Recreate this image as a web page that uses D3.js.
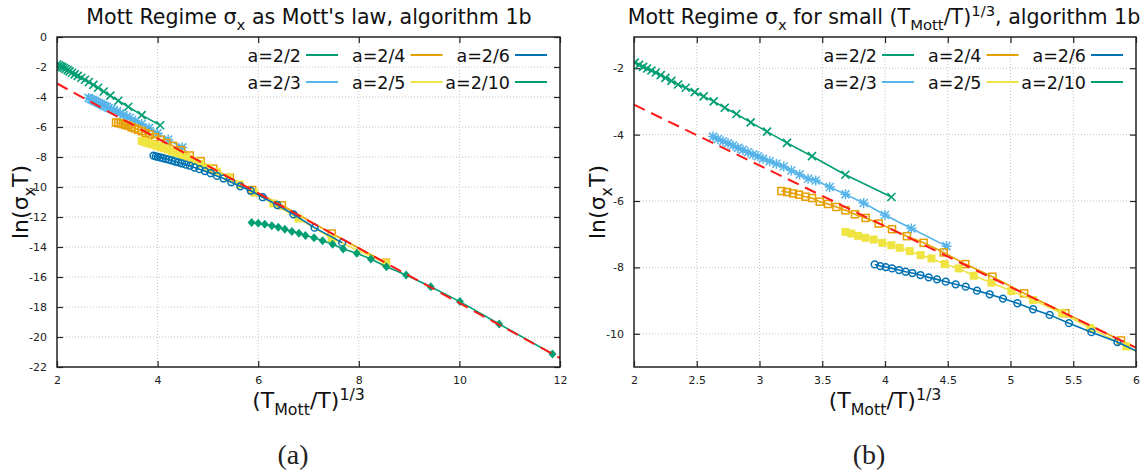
<!DOCTYPE html>
<html>
<head>
<meta charset="utf-8">
<script src="https://cdn.jsdelivr.net/npm/d3@7"></script>
<style>
  body { margin: 0; background: #fff; }
  svg text { font-family: "DejaVu Sans", sans-serif; fill: #111; }
  svg text.caption { font-family: "Liberation Serif", "DejaVu Serif", serif; fill: #222; }
</style>
</head>
<body>
<div id="chart"></div>
<script>
// series: x = (T_Mott/T)^(1/3), y = ln(sigma_x T)
const names = ["a=2/2", "a=2/3", "a=2/4", "a=2/5", "a=2/6", "a=2/10"]
const colors = ["#009e73", "#56b4e9", "#e69f00", "#f0e442", "#0072b2", "#009e73"]

const x22 = [2.006, 2.04, 2.072, 2.104, 2.139, 2.173, 2.213, 2.25, 2.298, 2.351, 2.412, 2.484, 2.555, 2.635, 2.723, 2.816, 2.93, 3.06, 3.219, 3.418, 3.684, 4.051]
const y22 = [-1.83, -1.90, -1.96, -2.01, -2.07, -2.13, -2.21, -2.29, -2.38, -2.49, -2.59, -2.72, -2.85, -3.0, -3.19, -3.38, -3.63, -3.91, -4.25, -4.65, -5.21, -5.88]

const x23 = [2.63, 2.669, 2.709, 2.749, 2.789, 2.829, 2.868, 2.908, 2.948, 2.988, 3.028, 3.081, 3.135, 3.193, 3.254, 3.32, 3.387, 3.448, 3.56, 3.685, 3.83, 4.0, 4.21, 4.49]
const y23 = [-4.06, -4.13, -4.20, -4.26, -4.33, -4.40, -4.46, -4.53, -4.60, -4.65, -4.73, -4.80, -4.88, -4.96, -5.08, -5.20, -5.33, -5.38, -5.58, -5.80, -6.06, -6.42, -6.83, -7.36]

const x24 = [3.174, 3.219, 3.267, 3.315, 3.366, 3.418, 3.48, 3.546, 3.613, 3.685, 3.761, 3.846, 3.95, 4.056, 4.175, 4.308, 4.468, 4.64, 4.856, 5.108, 5.437, 5.88, 6.47, 7.46, 8.54]
const y24 = [-5.70, -5.73, -5.77, -5.81, -5.87, -5.91, -6.02, -6.09, -6.18, -6.28, -6.40, -6.51, -6.68, -6.85, -7.06, -7.26, -7.55, -7.90, -8.28, -8.78, -9.38, -10.2, -11.22, -13.1, -15.05]

const x25 = [3.685, 3.732, 3.785, 3.844, 3.91, 3.979, 4.05, 4.117, 4.197, 4.284, 4.37, 4.476, 4.587, 4.707, 4.848, 5.007, 5.18, 5.41, 5.636, 5.923, 6.3, 6.8, 7.46, 8.54]
const y25 = [-6.93, -6.98, -7.05, -7.11, -7.16, -7.26, -7.33, -7.41, -7.51, -7.63, -7.73, -7.90, -8.03, -8.25, -8.46, -8.71, -8.98, -9.38, -9.83, -10.38, -11.1, -12.1, -13.42, -15.09]

const x26 = [3.918, 3.963, 4.006, 4.056, 4.112, 4.165, 4.218, 4.282, 4.348, 4.414, 4.484, 4.563, 4.643, 4.733, 4.834, 4.94, 5.055, 5.18, 5.312, 5.466, 5.645, 5.852, 6.09, 6.38, 6.70, 7.12, 7.67]
const y26 = [-7.91, -7.96, -7.99, -8.03, -8.08, -8.13, -8.17, -8.23, -8.30, -8.36, -8.43, -8.51, -8.58, -8.70, -8.81, -8.94, -9.08, -9.26, -9.43, -9.68, -9.95, -10.25, -10.68, -11.2, -11.82, -12.71, -13.71]

const x210 = [5.87, 6.0, 6.13, 6.27, 6.40, 6.53, 6.67, 6.81, 6.94, 7.11, 7.28, 7.48, 7.69, 7.96, 8.24, 8.55, 8.94, 9.43, 10.01, 10.79, 11.85]
const y210 = [-12.36, -12.42, -12.49, -12.58, -12.69, -12.81, -12.97, -13.09, -13.24, -13.38, -13.58, -13.82, -14.13, -14.42, -14.8, -15.31, -15.87, -16.65, -17.64, -19.13, -21.13]

// Mott's law fit (red dashed)
const fitX = [2, 12]
const fitY = [-3.1, -21.4]

const xTicksA = [2, 4, 6, 8, 10, 12]
const yTicksA = [0, -2, -4, -6, -8, -10, -12, -14, -16, -18, -20, -22]
const xTicksB = [2, 2.5, 3, 3.5, 4, 4.5, 5, 5.5, 6]
const yTicksB = [-2, -4, -6, -8, -10]

const markers = ["x", "star", "square", "fsquare", "circle", "diamond"]
const xsAll = [x22, x23, x24, x25, x26, x210]
const ysAll = [y22, y23, y24, y25, y26, y210]

let series = names.map((n, i) => ({
  name: n, color: colors[i], marker: markers[i],
  pts: xsAll[i].map((x, j) => [x, ysAll[i][j]])
}))

let svg = d3.select("#chart").append("svg")
  .attr("width", 1144).attr("height", 472)

// text with sub/superscripts: parts = [[text, "sub"|"sup"|null], ...]
let rich = (sel, parts, size) => {
  let shift = 0
  parts.forEach(p => {
    let target = p[1] === "sub" ? size * 0.3 : p[1] === "sup" ? -size * 0.38 : 0
    sel.append("tspan")
      .attr("dy", target - shift)
      .attr("font-size", p[1] ? size * 0.72 : size)
      .text(p[0])
    shift = target
  })
}

let drawMarker = (g, type, color, x, y) => {
  let s = 4
  if (type === "x") {
    g.append("path").attr("d", `M${x-s},${y-s}L${x+s},${y+s}M${x-s},${y+s}L${x+s},${y-s}`)
      .attr("stroke", color).attr("stroke-width", 1.6).attr("fill", "none")
  } else if (type === "star") {
    g.append("path").attr("d", `M${x-s},${y-s}L${x+s},${y+s}M${x-s},${y+s}L${x+s},${y-s}M${x-s-1},${y}L${x+s+1},${y}M${x},${y-s-1}L${x},${y+s+1}`)
      .attr("stroke", color).attr("stroke-width", 1.5).attr("fill", "none")
  } else if (type === "square") {
    g.append("rect").attr("x", x - 3.5).attr("y", y - 3.5).attr("width", 7).attr("height", 7)
      .attr("stroke", color).attr("stroke-width", 1.5).attr("fill", "none")
  } else if (type === "fsquare") {
    g.append("rect").attr("x", x - 4).attr("y", y - 4).attr("width", 8).attr("height", 8)
      .attr("fill", color)
  } else if (type === "circle") {
    g.append("circle").attr("cx", x).attr("cy", y).attr("r", 3.4)
      .attr("stroke", color).attr("stroke-width", 1.5).attr("fill", "none")
  } else {
    g.append("path").attr("d", `M${x},${y-4.5}L${x+4},${y}L${x},${y+4.5}L${x-4},${y}Z`)
      .attr("fill", color)
  }
}

let panel = (cfg) => {
  let x = d3.scaleLinear().domain(cfg.xDomain).range([cfg.left, cfg.right])
  let y = d3.scaleLinear().domain(cfg.yDomain).range([cfg.bottom, cfg.top])
  let g = svg.append("g")

  g.append("clipPath").attr("id", cfg.id)
    .append("rect").attr("x", cfg.left).attr("y", cfg.top)
    .attr("width", cfg.right - cfg.left).attr("height", cfg.bottom - cfg.top)

  // dotted grid
  let grid = g.append("g").attr("stroke", "#c4c4c4").attr("stroke-width", 1).attr("stroke-dasharray", "1,2")
  cfg.xTicks.slice(1, -1).forEach(t => {
    grid.append("line").attr("x1", x(t)).attr("x2", x(t)).attr("y1", cfg.top).attr("y2", cfg.bottom)
  })
  cfg.yTicks.forEach(t => {
    if (y(t) > cfg.top + 1 && y(t) < cfg.bottom - 1)
      grid.append("line").attr("y1", y(t)).attr("y2", y(t)).attr("x1", cfg.left).attr("x2", cfg.right)
  })

  // axes: ticks inside, mirrored on all four sides
  let axB = d3.axisBottom(x).tickValues(cfg.xTicks).tickSize(-6).tickPadding(9).tickFormat(d => String(d))
  let axT = d3.axisTop(x).tickValues(cfg.xTicks).tickSize(-6).tickFormat("")
  let axL = d3.axisLeft(y).tickValues(cfg.yTicks).tickSize(-6).tickPadding(10).tickFormat(d => String(d))
  let axR = d3.axisRight(y).tickValues(cfg.yTicks).tickSize(-6).tickFormat("")
  let style = a => {
    a.selectAll("path, line").attr("stroke", "#222").attr("stroke-width", 1.2)
    a.select(".domain").remove()
    a.selectAll("text").attr("font-size", 11).style("fill", "#222")
  }
  g.append("g").attr("transform", `translate(0,${cfg.bottom})`).call(axB).call(style)
  g.append("g").attr("transform", `translate(0,${cfg.top})`).call(axT).call(style)
  g.append("g").attr("transform", `translate(${cfg.left},0)`).call(axL).call(style)
  g.append("g").attr("transform", `translate(${cfg.right},0)`).call(axR).call(style)

  // data
  let plot = g.append("g").attr("clip-path", `url(#${cfg.id})`)
  let line = d3.line().x(d => x(d[0])).y(d => y(d[1]))
  series.forEach(s => {
    plot.append("path").datum(s.pts).attr("d", line)
      .attr("fill", "none").attr("stroke", s.color).attr("stroke-width", 1.6)
    let mg = plot.append("g")
    s.pts.forEach(p => drawMarker(mg, s.marker, s.color, x(p[0]), y(p[1])))
  })
  plot.append("path").datum(fitX.map((v, i) => [v, fitY[i]])).attr("d", line)
    .attr("fill", "none").attr("stroke", "#ff1a1a").attr("stroke-width", 2)
    .attr("stroke-dasharray", "12,7")

  // frame
  g.append("rect").attr("x", cfg.left).attr("y", cfg.top)
    .attr("width", cfg.right - cfg.left).attr("height", cfg.bottom - cfg.top)
    .attr("fill", "none").attr("stroke", "#222").attr("stroke-width", 1.5)

  // legend (two rows, three columns, column-major)
  names.forEach((n, i) => {
    let col = Math.floor(i / 2), row = i % 2
    let tx = cfg.right - 50 - (2 - col) * 104.5
    let ty = 55 + row * 27
    g.append("text").attr("x", tx).attr("y", ty + 6.5).attr("text-anchor", "end")
      .attr("font-size", 17.5).text(n)
    g.append("line").attr("x1", tx + 5).attr("x2", tx + 37).attr("y1", ty).attr("y2", ty)
      .attr("stroke", colors[i]).attr("stroke-width", 2)
  })

  // titles and labels
  let cx = (cfg.left + cfg.right) / 2
  let cy = (cfg.top + cfg.bottom) / 2
  rich(g.append("text").attr("x", cfg.titleX).attr("y", 24).attr("text-anchor", "middle"), cfg.title, 20.6)
  rich(g.append("text").attr("x", cx).attr("y", 408).attr("text-anchor", "middle"),
    [["(T", null], ["Mott", "sub"], ["/T)", null], ["1/3", "sup"]], 22)
  rich(g.append("text").attr("transform", `translate(${cfg.left - 29},${cy}) rotate(-90)`).attr("text-anchor", "middle"),
    [["ln(σ", null], ["x", "sub"], ["T)", null]], 22)
  g.append("text").attr("class", "caption").attr("x", cfg.capX).attr("y", 464).attr("text-anchor", "middle")
    .attr("font-size", 28).text(cfg.caption)
}

panel({
  id: "clipA", left: 57, right: 560, top: 37, bottom: 367,
  xDomain: [2, 12], yDomain: [-22, 0], xTicks: xTicksA, yTicks: yTicksA,
  title: [["Mott Regime σ", null], ["x", "sub"], [" as Mott's law, algorithm 1b", null]],
  titleX: 309, caption: "(a)", capX: 293
})
panel({
  id: "clipB", left: 634, right: 1136, top: 37, bottom: 367,
  xDomain: [2, 6], yDomain: [-11, -1.06], xTicks: xTicksB, yTicks: yTicksB,
  title: [["Mott Regime σ", null], ["x", "sub"], [" for small (T", null], ["Mott", "sub"], ["/T)", null], ["1/3", "sup"], [", algorithm 1b", null]],
  titleX: 884, caption: "(b)", capX: 869
})
</script>
</body>
</html>
